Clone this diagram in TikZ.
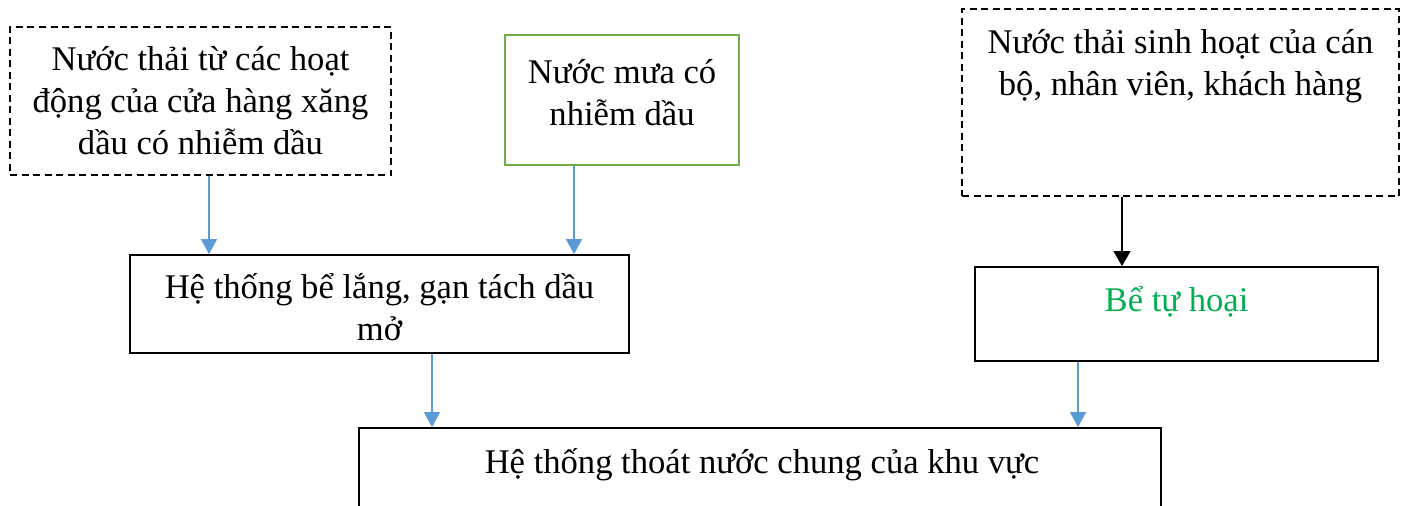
\documentclass[tikz,border=0pt]{standalone}
\usepackage{fontspec}
\setmainfont{Liberation Serif}
\usetikzlibrary{arrows.meta}
\definecolor{flowblue}{HTML}{5B9BD5}
\definecolor{boxgreen}{HTML}{70AD47}
\definecolor{textgreen}{HTML}{00B050}
\newcommand{\stack}[1]{\begin{tabular}[t]{@{}c@{}}#1\end{tabular}}
\tikzset{
  box/.style={draw=black, line width=1.8pt, rectangle, inner sep=0pt},
  dashbox/.style={box, dash pattern=on 7pt off 4.5pt},
  greenbox/.style={draw=boxgreen, line width=2.6pt, rectangle, inner sep=0pt},
  label/.style={anchor=base, inner sep=0pt, font=\fontsize{34.6}{42.5}\selectfont},
  bluearrow/.style={draw=flowblue, line width=1.2pt, -{Triangle[length=15pt,width=16pt]}},
  blackarrow/.style={draw=black, line width=1.4pt, -{Triangle[length=15pt,width=17pt]}}
}
\begin{document}
\begin{tikzpicture}[x=1pt,y=-1pt]
  \useasboundingbox (0,0) rectangle (1411,506);
  \clip (0,0) rectangle (1411,506);

  % source boxes
  \node[dashbox, minimum width=381pt, minimum height=148pt] (src1) at (200.5,101) {};
  \node[label] (src1t) at (200.5,70) {\stack{Nước thải từ các hoạt\\động của cửa hàng xăng\\dầu có nhiễm dầu}};

  \node[greenbox, minimum width=234pt, minimum height=130pt] (src2) at (622,100) {};
  \node[label] (src2t) at (622,83) {\stack{Nước mưa có\\nhiễm dầu}};

  \node[dashbox, minimum width=437pt, minimum height=187pt] (src3) at (1180.5,102.5) {};
  \node[label] (src3t) at (1180.5,53) {\stack{Nước thải sinh hoạt của cán\\bộ, nhân viên, khách hàng}};

  % treatment boxes
  \node[box, minimum width=499pt, minimum height=98pt] (sep) at (379.5,304) {};
  \node[label] (sept) at (379.5,298) {\stack{Hệ thống bể lắng, gạn tách dầu\\mở}};

  \node[box, minimum width=403pt, minimum height=94pt] (septic) at (1176.5,314) {};
  \node[label, text=textgreen] (septict) at (1176.5,311) {Bể tự hoại};

  % common drainage
  \node[box, minimum width=802pt, minimum height=100pt] (drain) at (760,478) {};
  \node[label] (draint) at (762,473) {Hệ thống thoát nước chung của khu vực};

  % arrow columns
  \coordinate (c1) at (209,0);
  \coordinate (c2) at (574,0);
  \coordinate (c3) at (432,0);
  \coordinate (c4) at (1078,0);
  \coordinate (c5) at (1122,0);

  \draw[bluearrow] (c1 |- src1.south) -- (c1 |- sep.north);
  \draw[bluearrow] (c2 |- src2.south) -- (c2 |- sep.north);
  \draw[bluearrow] (c3 |- sep.south) -- (c3 |- drain.north);
  \draw[bluearrow] (c4 |- septic.south) -- (c4 |- drain.north);
  \draw[blackarrow] (c5 |- src3.south) -- (c5 |- septic.north);
\end{tikzpicture}
\end{document}
